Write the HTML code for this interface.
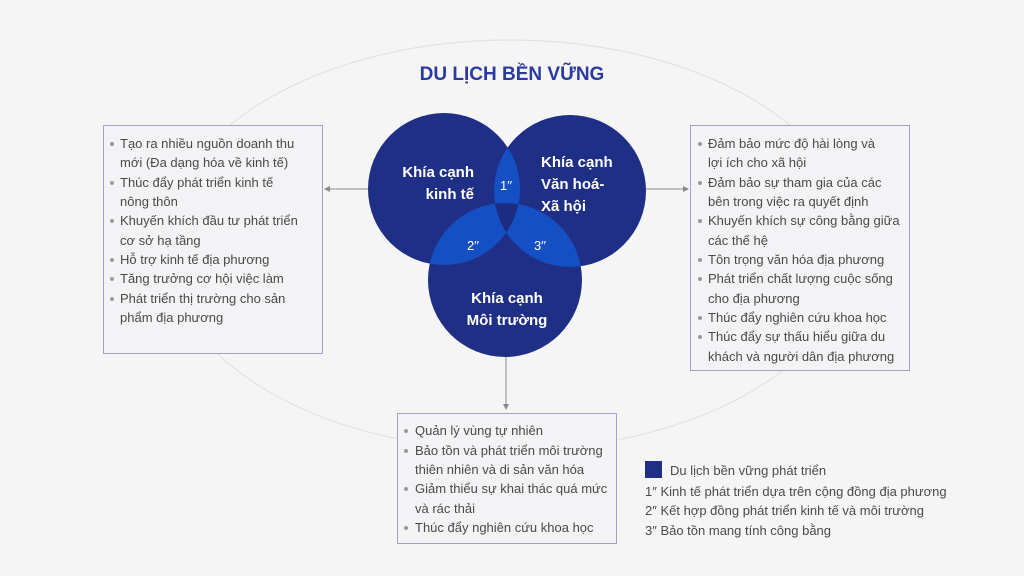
<!DOCTYPE html>
<html><head><meta charset="utf-8"><style>
body{margin:0;background:#f5f5f5;}
svg{display:block;font-family:"Liberation Sans",sans-serif;}
.t{font-size:13px;fill:#4a4a4a;}
.b{fill:#9a9a9a;}
</style></head><body>
<svg width="1024" height="576" viewBox="0 0 1024 576">
<rect width="1024" height="576" fill="#f5f5f5"/>
<ellipse cx="510" cy="245" rx="345" ry="205" fill="none" stroke="#e2e2e2" stroke-width="1.2"/>
<text x="512" y="80" text-anchor="middle" font-size="19" font-weight="bold" fill="#2b3a9e">DU LỊCH BỀN VỮNG</text>
<defs>
<clipPath id="cA"><circle cx="444" cy="189" r="76"/></clipPath>
<clipPath id="cB"><circle cx="570" cy="191" r="76"/></clipPath>
<clipPath id="cC"><circle cx="505" cy="280" r="77"/></clipPath>
</defs>
<circle cx="444" cy="189" r="76" fill="#1f2f86"/>
<circle cx="570" cy="191" r="76" fill="#1f2f86"/>
<circle cx="505" cy="280" r="77" fill="#1f2f86"/>
<circle cx="570" cy="191" r="76" fill="#1450c4" clip-path="url(#cA)"/>
<circle cx="505" cy="280" r="77" fill="#1450c4" clip-path="url(#cA)"/>
<circle cx="505" cy="280" r="77" fill="#1450c4" clip-path="url(#cB)"/>
<g clip-path="url(#cA)"><circle cx="505" cy="280" r="77" fill="#1c2c80" clip-path="url(#cB)"/></g>
<g fill="#fff" font-weight="bold" font-size="15">
<text x="474" y="177" text-anchor="end">Khía cạnh</text>
<text x="474" y="199" text-anchor="end">kinh tế</text>
<text x="541" y="167">Khía cạnh</text>
<text x="541" y="189">Văn hoá-</text>
<text x="541" y="211">Xã hội</text>
<text x="507" y="303" text-anchor="middle">Khía cạnh</text>
<text x="507" y="325" text-anchor="middle">Môi trường</text>
<text x="506" y="190" text-anchor="middle" font-weight="normal" font-size="13">1′′</text>
<text x="473" y="250" text-anchor="middle" font-weight="normal" font-size="13">2′′</text>
<text x="540" y="250" text-anchor="middle" font-weight="normal" font-size="13">3′′</text>
</g>
<!-- connectors -->
<g stroke="#8a8a8a" stroke-width="1" fill="#8a8a8a">
<line x1="326" y1="189" x2="368" y2="189"/><path d="M324 189 l6 -3 v6z" stroke="none"/>
<line x1="646" y1="189" x2="686" y2="189"/><path d="M689 189 l-6 -3 v6z" stroke="none"/>
<line x1="506" y1="357" x2="506" y2="405"/><path d="M506 410 l-3 -6 h6z" stroke="none"/>
</g>
<rect x="103.5" y="125.5" width="219" height="228" fill="#f3f3f5" stroke="#9fa3c8"/>
<rect x="690.5" y="125.5" width="219" height="245" fill="#f3f3f5" stroke="#9fa3c8"/>
<rect x="397.5" y="413.5" width="219" height="130" fill="#f3f3f5" stroke="#9fa3c8"/>
<g class="t">
<text x="120" y="148">Tạo ra nhiều nguồn doanh thu</text>
<text x="120" y="167">mới (Đa dạng hóa về kinh tế)</text>
<text x="120" y="187">Thúc đẩy phát triển kinh tế</text>
<text x="120" y="206">nông thôn</text>
<text x="120" y="225">Khuyến khích đầu tư phát triển</text>
<text x="120" y="245">cơ sở hạ tầng</text>
<text x="120" y="264">Hỗ trợ kinh tế địa phương</text>
<text x="120" y="283">Tăng trưởng cơ hội việc làm</text>
<text x="120" y="303">Phát triển thị trường cho sản</text>
<text x="120" y="322">phẩm địa phương</text>
</g>
<g class="b"><circle cx="112" cy="144" r="2"/><circle cx="112" cy="183" r="2"/><circle cx="112" cy="221" r="2"/><circle cx="112" cy="260" r="2"/><circle cx="112" cy="279" r="2"/><circle cx="112" cy="299" r="2"/></g>
<g class="t">
<text x="708" y="148">Đảm bảo mức độ hài lòng và</text>
<text x="708" y="167">lợi ích cho xã hội</text>
<text x="708" y="187">Đảm bảo sự tham gia của các</text>
<text x="708" y="206">bên trong việc ra quyết định</text>
<text x="708" y="225">Khuyến khích sự công bằng giữa</text>
<text x="708" y="245">các thế hệ</text>
<text x="708" y="264">Tôn trọng văn hóa địa phương</text>
<text x="708" y="283">Phát triển chất lượng cuộc sống</text>
<text x="708" y="303">cho địa phương</text>
<text x="708" y="322">Thúc đẩy nghiên cứu khoa học</text>
<text x="708" y="341">Thúc đẩy sự thấu hiểu giữa du</text>
<text x="708" y="361">khách và người dân địa phương</text>
</g>
<g class="b"><circle cx="700" cy="144" r="2"/><circle cx="700" cy="183" r="2"/><circle cx="700" cy="221" r="2"/><circle cx="700" cy="260" r="2"/><circle cx="700" cy="279" r="2"/><circle cx="700" cy="318" r="2"/><circle cx="700" cy="337" r="2"/></g>
<g class="t">
<text x="415" y="435">Quản lý vùng tự nhiên</text>
<text x="415" y="455">Bảo tồn và phát triển môi trường</text>
<text x="415" y="474">thiên nhiên và di sản văn hóa</text>
<text x="415" y="493">Giảm thiểu sự khai thác quá mức</text>
<text x="415" y="513">và rác thải</text>
<text x="415" y="532">Thúc đẩy nghiên cứu khoa học</text>
</g>
<g class="b"><circle cx="406" cy="431" r="2"/><circle cx="406" cy="451" r="2"/><circle cx="406" cy="489" r="2"/><circle cx="406" cy="528" r="2"/></g>
<rect x="645" y="461" width="17" height="17" fill="#1f2f86"/>
<g class="t">
<text x="670" y="475">Du lịch bền vững phát triển</text>
<text x="645" y="496">1″ Kinh tế phát triển dựa trên cộng đồng địa phương</text>
<text x="645" y="515">2″ Kết hợp đồng phát triển kinh tế và môi trường</text>
<text x="645" y="535">3″ Bảo tồn mang tính công bằng</text>
</g>
</svg>
</body></html>
